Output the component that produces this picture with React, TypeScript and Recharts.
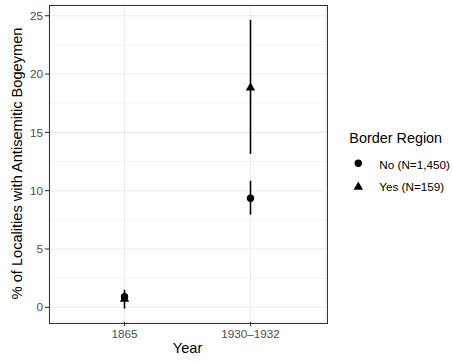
import React from 'react';
import {
  ComposedChart,
  Scatter,
  ErrorBar,
  XAxis,
  YAxis,
  CartesianGrid,
  Legend,
} from 'recharts';

const years = ['1865', '1930–1932'];
const noValues = [0.9, 9.35];
const noLower = [0.5, 7.95];
const noUpper = [1.3, 10.85];
const yesValues = [0.8, 18.9];
const yesLower = [-0.1, 13.15];
const yesUpper = [1.5, 24.65];
const yTicks = [0, 5, 10, 15, 20, 25];
const yMinorTicks = [2.5, 7.5, 12.5, 17.5, 22.5];
const yDomain = [-1.26, 25.92];
const seriesNames = ['No (N=1,450)', 'Yes (N=159)'];
const legendTitle = 'Border Region';
const xTitle = 'Year';
const yTitle = '% of Localities with Antisemitic Bogeymen';

const data = years.map((year, i) => ({
  year,
  no: noValues[i],
  noErr: [noValues[i] - noLower[i], noUpper[i] - noValues[i]],
  yes: yesValues[i],
  yesErr: [yesValues[i] - yesLower[i], yesUpper[i] - yesValues[i]],
}));

const FONT = '"Liberation Sans", Arial, Helvetica, sans-serif';

const CircleShape = (props: any) => {
  const { cx, cy } = props;
  if (cx == null || cy == null) return null;
  return <circle cx={cx} cy={cy} r={3.7} fill="#000" />;
};

const TriangleShape = (props: any) => {
  const { cx, cy } = props;
  if (cx == null || cy == null) return null;
  const pts = `${cx - 4.7},${cy + 3.7} ${cx + 4.7},${cy + 3.7} ${cx},${cy - 4.5}`;
  return <polygon points={pts} fill="#000" />;
};

const LegendContent = () => (
  <svg width={112} height={80} style={{ display: 'block', fontFamily: FONT }}>
    <text x={9.3} y={18} fontSize={14.4} fill="#000">
      {legendTitle}
    </text>
    <circle cx={18.3} cy={38.3} r={3.7} fill="#000" />
    <text x={39.3} y={44.4} fontSize={11.7} fill="#000">
      {seriesNames[0]}
    </text>
    <polygon points={`${18.3 - 4.7},${61 + 3.7} ${18.3 + 4.7},${61 + 3.7} ${18.3},${61 - 4.5}`} fill="#000" />
    <text x={39.3} y={66} fontSize={11.7} fill="#000">
      {seriesNames[1]}
    </text>
  </svg>
);

export default function App() {
  return (
    <div
      style={{
        position: 'absolute',
        left: 0,
        top: 0,
        width: 452,
        height: 362,
        background: '#fff',
        fontFamily: FONT,
      }}
    >
      <ComposedChart
        width={452}
        height={362}
        data={data}
        margin={{ top: 5, right: 126, bottom: 0, left: 0 }}
      >
        <CartesianGrid
          horizontalValues={yMinorTicks}
          vertical={false}
          stroke="#EBEBEB"
          strokeWidth={0.55}
        />
        <CartesianGrid stroke="#EBEBEB" strokeWidth={1.07} />
        <XAxis
          dataKey="year"
          type="category"
          scale="point"
          padding={{ left: 75.5, right: 75.5 }}
          interval={0}
          axisLine={false}
          tickLine={{ stroke: '#333333', strokeWidth: 1.07 }}
          tickSize={4}
          tickMargin={4}
          height={40}
          tick={{ fill: '#4D4D4D', fontSize: 11.7 }}
          label={{ value: xTitle, position: 'insideBottom', offset: 9, fill: '#000', fontSize: 14.6 }}
        />
        <YAxis
          type="number"
          domain={yDomain}
          ticks={yTicks}
          allowDataOverflow
          axisLine={false}
          tickLine={{ stroke: '#333333', strokeWidth: 1.07 }}
          tickSize={4}
          tickMargin={2}
          width={49}
          tick={{ fill: '#4D4D4D', fontSize: 11.7 }}
          label={{ value: yTitle, angle: -90, position: 'center', dx: -7.5, fill: '#000', fontSize: 14.6 }}
        />
        <Scatter
          name={seriesNames[0]}
          dataKey="no"
          shape={CircleShape}
          fill="#000"
          isAnimationActive={false}
        >
          <ErrorBar dataKey="noErr" direction="y" width={0} stroke="#000" strokeWidth={1.6} />
        </Scatter>
        <Scatter
          name={seriesNames[1]}
          dataKey="yes"
          shape={TriangleShape}
          fill="#000"
          isAnimationActive={false}
        >
          <ErrorBar dataKey="yesErr" direction="y" width={0} stroke="#000" strokeWidth={1.6} />
        </Scatter>
        <Legend
          layout="horizontal"
          verticalAlign="middle"
          align="center"
          content={<LegendContent />}
          wrapperStyle={{ position: 'absolute', left: 340, top: 125, width: 112, height: 80 }}
        />
      </ComposedChart>
      <div
        style={{
          position: 'absolute',
          left: 48.5,
          top: 4.5,
          width: 277,
          height: 317,
          border: '1px solid #333333',
          pointerEvents: 'none',
        }}
      />
    </div>
  );
}
